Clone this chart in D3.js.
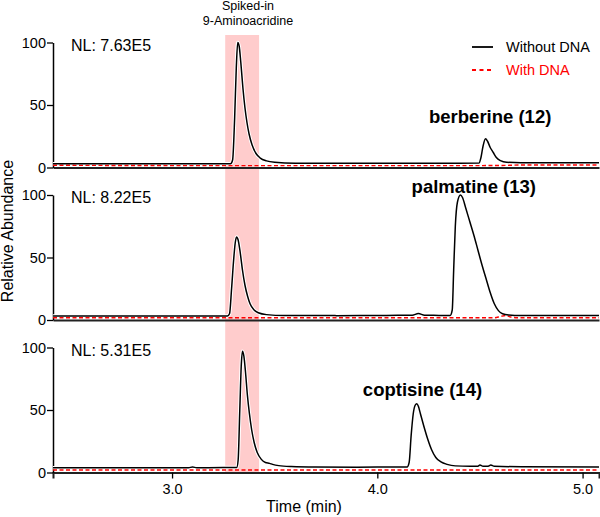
<!DOCTYPE html>
<html><head><meta charset="utf-8">
<script src="https://cdn.jsdelivr.net/npm/d3@7"></script>
<style>body{margin:0;background:#fff}svg{display:block;font-family:"Liberation Sans",Arial,sans-serif}</style>
</head><body><svg id="c" width="600" height="517"></svg>
<script>
// ---- data ----
const nlLabels = ["NL: 7.63E5", "NL: 8.22E5", "NL: 5.31E5"];
const compounds = ["berberine (12)", "palmatine (13)", "coptisine (14)"];
const seriesNames = ["Without DNA", "With DNA"];
const yTicks = [0, 50, 100];
const xTicks = [3.0, 4.0, 5.0];
const spikeWindow = [3.259, 3.424];

const p1Without = [[2.42,3],[2.8,3],[3.2,3],[3.285,3],[3.295,6],[3.305,40],[3.313,80],[3.32,100],[3.327,97],[3.335,84],[3.345,64],[3.355,48],[3.365,36],[3.375,27],[3.39,18],[3.41,11],[3.43,7.5],[3.46,5.3],[3.5,4.2],[3.6,3.5],[4.0,3.4],[4.4,3.4],[4.495,3.5],[4.505,8],[4.515,17],[4.527,23],[4.537,21],[4.55,16],[4.565,12],[4.58,8],[4.6,5.5],[4.63,4.2],[4.7,3.8],[5.08,3.8]];
const p1With = [[2.42,1.8],[2.8,1.6],[3.2,1.5],[3.6,1.5],[4.0,1.5],[4.4,1.5],[4.6,1.6],[4.7,2],[5.08,2]];
const p2Without = [[2.42,3.3],[2.8,3.3],[3.2,3.3],[3.27,3.3],[3.28,5],[3.29,25],[3.30,48],[3.308,62],[3.314,66.5],[3.322,64],[3.332,54],[3.343,40],[3.355,28],[3.368,19],[3.38,13],[3.4,8],[3.42,5.8],[3.46,4.3],[3.55,3.6],[3.8,3.5],[4.0,3.6],[4.1,3.8],[4.17,3.8],[4.2,5.2],[4.23,3.8],[4.3,3.7],[4.355,3.7],[4.365,8],[4.372,40],[4.38,75],[4.39,94],[4.405,100],[4.415,98],[4.43,90],[4.45,79],[4.47,68],[4.49,56],[4.51,44],[4.53,33],[4.55,22],[4.57,13],[4.59,7.5],[4.61,5],[4.64,4],[4.7,3.6],[5.08,3.6]];
const p2With = [[2.42,1.8],[2.8,1.8],[3.2,1.8],[3.6,1.8],[4.0,1.8],[4.4,1.8],[4.57,1.8],[4.6,2.8],[4.625,3.6],[4.65,2.4],[4.68,1.8],[5.08,1.8]];
const p3Without = [[2.42,3.8],[2.8,3.8],[3.08,3.8],[3.1,4.4],[3.12,3.8],[3.25,4],[3.315,4],[3.322,10],[3.33,50],[3.337,85],[3.343,97],[3.35,93],[3.358,80],[3.367,62],[3.377,47],[3.388,34],[3.4,24],[3.415,16],[3.435,10.5],[3.455,8],[3.475,7.3],[3.49,6.5],[3.52,5.5],[3.58,4.8],[3.7,4.4],[3.9,4.3],[4.0,4.4],[4.145,4.4],[4.155,8],[4.165,30],[4.175,47],[4.185,54],[4.192,55],[4.2,53],[4.21,47],[4.225,38],[4.245,27],[4.265,18],[4.285,12],[4.31,8.5],[4.34,6.5],[4.38,5.3],[4.45,5],[4.49,5],[4.5,6],[4.515,5],[4.54,5],[4.553,6],[4.57,5],[4.7,4.6],[5.08,4.5]];
const p3With = [[2.42,2],[2.8,2],[3.2,2],[3.6,2],[4.0,2],[4.4,2],[4.8,2],[5.08,2]];

const panels = [
  {without: p1Without, withDNA: p1With, nl: nlLabels[0], label: compounds[0], labelX: 4.55, labelV: 36},
  {without: p2Without, withDNA: p2With, nl: nlLabels[1], label: compounds[1], labelX: 4.47, labelV: 102},
  {without: p3Without, withDNA: p3With, nl: nlLabels[2], label: compounds[2], labelX: 4.22, labelV: 61}
];

// ---- layout ----
const svg = d3.select("#c");
const left = 53, right = 599;
const panelTops = [42.5, 195, 347.5];
const panelH = 125;
const x = d3.scaleLinear().domain([2.42, 5.08]).range([left, right]);

// spiked-in band
svg.append("rect")
  .attr("x", x(spikeWindow[0])).attr("width", x(spikeWindow[1]) - x(spikeWindow[0]))
  .attr("y", 35).attr("height", panelTops[2] + panelH - 35)
  .attr("fill", "#ffcccc");

const lineGen = (y) => d3.line().x(d => x(d[0])).y(d => y(d[1])).curve(d3.curveMonotoneX);

panels.forEach((p, i) => {
  const top = panelTops[i];
  const y = d3.scaleLinear().domain([0, 100]).range([top + panelH, top]);
  const g = svg.append("g");
  const lg = lineGen(y);

  // bottom axis
  const xa = d3.axisBottom(x).tickSizeOuter(0);
  if (i === 2) xa.tickValues(xTicks).tickSize(6).tickFormat(d3.format(".1f"));
  else xa.tickValues([]);
  const xg = g.append("g").attr("transform", `translate(0,${top + panelH})`).call(xa);
  xg.select(".domain").attr("stroke", "#222").attr("stroke-width", 2);
  xg.selectAll(".tick line").attr("stroke", "#000").attr("stroke-width", 1.3);
  xg.selectAll(".tick text").attr("font-size", 14.5).attr("fill", "#000").attr("font-family", "Liberation Sans, Arial, sans-serif").attr("dy", "0.88em");

  // left axis
  const ya = d3.axisLeft(y).tickValues(yTicks).tickSize(6).tickSizeOuter(0).tickPadding(1);
  const yg = g.append("g").attr("transform", `translate(${left},0)`).call(ya);
  yg.select(".domain").attr("stroke", "#000").attr("stroke-width", 1.5);
  yg.selectAll(".tick line").attr("stroke", "#000").attr("stroke-width", 1.3);
  yg.selectAll(".tick text").attr("font-size", 14.5).attr("fill", "#000").attr("font-family", "Liberation Sans, Arial, sans-serif");

  // traces
  g.append("path").datum(p.without).attr("d", lg).attr("fill", "none").attr("stroke", "#fff").attr("stroke-width", 3.5);
  g.append("path").datum(p.withDNA).attr("d", lg).attr("fill", "none").attr("stroke", "#ff0000").attr("stroke-width", 1.4).attr("stroke-dasharray", "4,2.5");
  g.append("path").datum(p.without).attr("d", lg).attr("fill", "none").attr("stroke", "#000").attr("stroke-width", 1.5);

  // NL label
  g.append("text").attr("x", 71).attr("y", top + 8).attr("font-size", 16).text(p.nl);
  // compound label
  g.append("text").attr("x", x(p.labelX)).attr("y", y(p.labelV))
    .attr("text-anchor", "middle").attr("font-size", 18.5).attr("font-weight", "bold").text(p.label);
});

// spiked-in label
svg.append("text").attr("x", 248).attr("y", 10).attr("text-anchor", "middle").attr("font-size", 12.5).text("Spiked-in");
svg.append("text").attr("x", 248).attr("y", 25).attr("text-anchor", "middle").attr("font-size", 12.5).text("9-Aminoacridine");

// legend
const legY = [47, 70];
svg.append("line").attr("x1", 472).attr("x2", 493).attr("y1", legY[0]).attr("y2", legY[0]).attr("stroke", "#000").attr("stroke-width", 1.8);
svg.append("line").attr("x1", 472).attr("x2", 493).attr("y1", legY[1]).attr("y2", legY[1]).attr("stroke", "#ff0000").attr("stroke-width", 1.8).attr("stroke-dasharray", "4,3.5");
svg.append("text").attr("x", 506).attr("y", legY[0] + 4.5).attr("font-size", 14.5).text(seriesNames[0]);
svg.append("text").attr("x", 506).attr("y", legY[1] + 4.5).attr("font-size", 14.5).attr("fill", "#ff0000").text(seriesNames[1]);

// axis titles
svg.append("text").attr("transform", "translate(13,231) rotate(-90)").attr("text-anchor", "middle").attr("font-size", 16).text("Relative Abundance");
svg.append("text").attr("x", 304).attr("y", 512).attr("text-anchor", "middle").attr("font-size", 16).text("Time (min)");
</script></body></html>
